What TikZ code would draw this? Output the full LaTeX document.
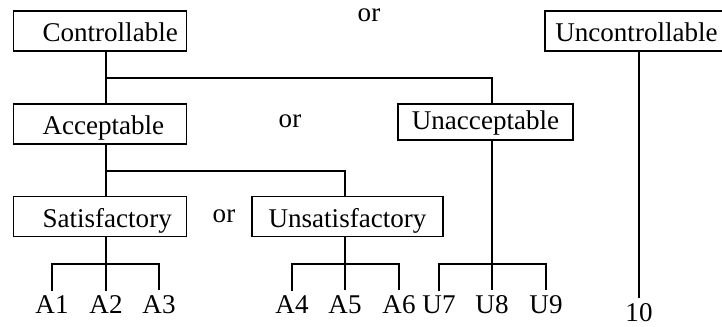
\documentclass[tikz,border=0pt]{standalone}
\usepackage{fontspec}
\setmainfont{Liberation Serif}

\begin{document}
\begin{tikzpicture}[
		font=\fontsize{15.4}{18}\selectfont,
		every path/.style={line width=0.6pt},
		box/.style={draw, minimum height=0.8cm, inner ysep=2pt, text height=13pt, text depth=0.5pt},
		lbox/.style={box, anchor=west, inner xsep=0pt, text width=3.46cm, align=left, execute at begin node={\hspace*{0.58cm}}},
		leaf/.style={inner sep=2.8pt}
	]
	\useasboundingbox (0,0) rectangle (14.44,6.52);

	\node[lbox] (ctrl) at (0.26,5.90) {Controllable};
	\node[lbox] (accept) at (0.26,4.04) {Acceptable};
	\node[lbox] (satis) at (0.26,2.19) {Satisfactory};
	\node[box, minimum width=3.82cm] (unsat) at (6.95,2.19) {Unsatisfactory};
	\node[box, minimum width=3.5cm, minimum height=0.72cm, text height=10.5pt, text depth=1.4pt] (unacc) at (9.71,4.08) {Unacceptable};
	\node[box, minimum width=3.66cm] (unctrl) at (12.73,5.90) {Uncontrollable};

	\node (or1) at (7.38,6.22) {or};
	\node (or2) at (5.80,4.10) {or};
	\node (or3) at (4.48,2.20) {or};

	\node[leaf] (a1) at (1.04,0.42) {A1};
	\node[leaf] (a2) at (2.12,0.42) {A2};
	\node[leaf] (a3) at (3.18,0.42) {A3};
	\node[leaf] (a4) at (5.84,0.42) {A4};
	\node[leaf] (a5) at (6.90,0.42) {A5};
	\node[leaf] (a6) at (7.98,0.42) {A6};
	\node[leaf] (u7) at (8.78,0.42) {U7};
	\node[leaf] (u8) at (9.84,0.42) {U8};
	\node[leaf] (u9) at (10.92,0.42) {U9};
	\node[leaf] (n10) at (12.78,0.27) {10};

	% branch points
	\coordinate (cj) at (2.12,4.96);
	\coordinate (aj) at (2.12,3.10);
	\coordinate (sbar) at (2.12,1.24);
	\coordinate (nbar) at (6.90,1.24);
	\coordinate (ubar) at (9.84,1.24);

	\draw (ctrl.south -| cj) -- (accept.north -| cj);
	\draw (cj) -| (unacc.north -| u8);
	\draw (accept.south -| aj) -- (satis.north -| aj);
	\draw (aj) -| (unsat.north -| a5);

	\draw (satis.south -| a2) -- (a2.north);
	\draw (a1.north) |- (sbar) -| (a3.north);
	\draw (unsat.south -| a5) -- (a5.north);
	\draw (a4.north) |- (nbar) -| (a6.north);
	\draw (unacc.south -| u8) -- (u8.north);
	\draw (u7.north) |- (ubar) -| (u9.north);
	\draw (unctrl.south -| n10) -- (n10.north);
\end{tikzpicture}
\end{document}
